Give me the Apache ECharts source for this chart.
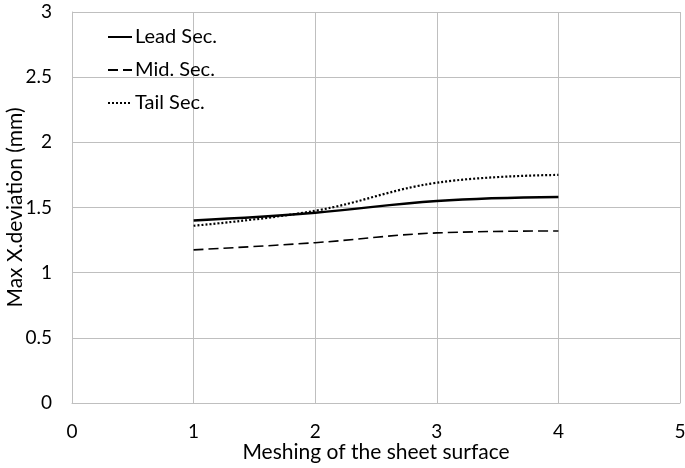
<!DOCTYPE html>
<html><head><meta charset="utf-8">
<script src="https://cdn.jsdelivr.net/npm/echarts@6/dist/echarts.min.js"></script>
<style>html,body{margin:0;padding:0;background:#fff}#c{width:685px;height:468px}</style>
</head><body><div id="c"></div>
<script>
const xValues = [1, 2, 3, 4];
const leadSec = [1.40, 1.46, 1.55, 1.58];
const midSec = [1.175, 1.23, 1.305, 1.32];
const tailSec = [1.36, 1.475, 1.69, 1.75];
const seriesNames = ['Lead Sec.', 'Mid. Sec.', 'Tail Sec.'];

const font = 'Lato, "Open Sans", sans-serif';
const pair = a => xValues.map((x, i) => [x, a[i]]);
const chart = echarts.init(document.getElementById('c'));
chart.setOption({
  animation: false,
  textStyle: { fontFamily: font },
  grid: { left: 72, right: 5, top: 12, bottom: 65, outerBoundsMode: 'none', containLabel: false },
  legend: {
    left: 102, top: 22, orient: 'vertical', itemGap: 13, itemWidth: 24, itemHeight: 20,
    itemStyle: { opacity: 0 },
    textStyle: { fontFamily: font, fontSize: 20, color: '#000', padding: [0, 0, 0, -2] },
    data: seriesNames
  },
  xAxis: {
    type: 'value', min: 0, max: 5, interval: 1,
    name: 'Meshing of the sheet surface', nameLocation: 'middle', nameGap: 39, nameMoveOverlap: false,
    nameTextStyle: { fontFamily: font, fontSize: 21, color: '#000' },
    axisLine: { lineStyle: { color: '#bfbfbf' } },
    axisTick: { show: false },
    axisLabel: { fontFamily: font, fontSize: 19, color: '#000', margin: 19 },
    splitLine: { show: true, lineStyle: { color: '#bfbfbf' } }
  },
  yAxis: {
    type: 'value', min: 0, max: 3, interval: 0.5,
    name: 'Max X.deviation (mm)', nameLocation: 'middle', nameGap: 46, nameMoveOverlap: false,
    nameTextStyle: { fontFamily: font, fontSize: 21, color: '#000' },
    axisLine: { show: true, lineStyle: { color: '#bfbfbf' } },
    axisTick: { show: false },
    axisLabel: { fontFamily: font, fontSize: 19, color: '#000', margin: 20 },
    splitLine: { show: true, lineStyle: { color: '#bfbfbf' } }
  },
  series: [
    { name: seriesNames[0], type: 'line', smooth: 0.4, symbol: 'none', data: pair(leadSec),
      lineStyle: { color: '#000', width: 2.4, type: 'solid' }, itemStyle: { color: '#000' } },
    { name: seriesNames[1], type: 'line', smooth: 0.4, symbol: 'none', data: pair(midSec),
      lineStyle: { color: '#000', width: 1.6, type: [10, 5] }, itemStyle: { color: '#000' } },
    { name: seriesNames[2], type: 'line', smooth: 0.4, symbol: 'none', data: pair(tailSec),
      lineStyle: { color: '#000', width: 2.2, type: [2, 2] }, itemStyle: { color: '#000' } }
  ]
});
</script></body></html>
